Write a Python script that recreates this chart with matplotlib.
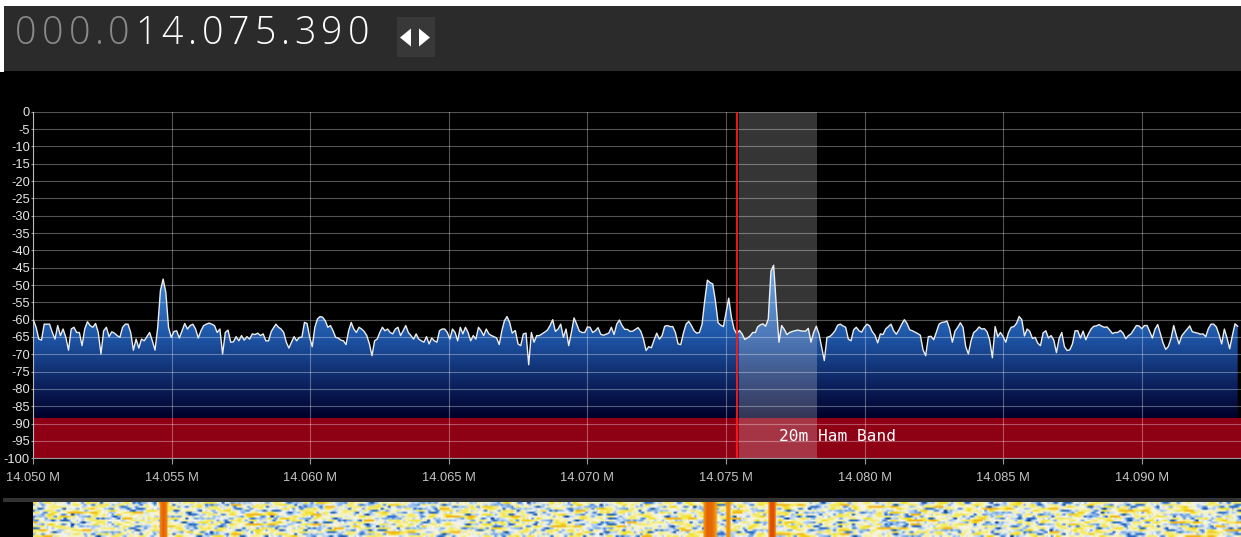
import numpy as np
import matplotlib
matplotlib.use("Agg")
import matplotlib.pyplot as plt
from matplotlib.colors import LinearSegmentedColormap
from matplotlib.patches import Rectangle, Polygon

# ---------------- data ----------------
freq_prefix = "000.0"
freq_value = "14.075.390"
x_ticks_mhz = [14.050, 14.055, 14.060, 14.065, 14.070, 14.075, 14.080, 14.085, 14.090]
x_tick_labels = ["14.050 M", "14.055 M", "14.060 M", "14.065 M", "14.070 M",
                 "14.075 M", "14.080 M", "14.085 M", "14.090 M"]
y_ticks_db = [0, -5, -10, -15, -20, -25, -30, -35, -40, -45, -50,
              -55, -60, -65, -70, -75, -80, -85, -90, -95, -100]
x_range_mhz = (14.050, 14.09358)

tuned_mhz = 14.07539
passband_mhz = (14.07546, 14.07827)
band_name = "20m Ham Band"
band_db = (-100, -88.5)

seg1_mhz = (14.05001, 14.05869)
seg1_db = [-60.1, -62.2, -65.6, -65.9, -61.3, -61.3, -61.3, -63.7, -65.6, -61.7, -64.6, -62.7, -65.1, -68.8,
           -62.7, -62.2, -63.7, -63.7, -67.5, -62.7, -60.6, -61.7, -62.2, -61.1, -63.7, -69.9, -63.2, -62.2,
           -64.9, -63.5, -63.9, -64.6, -65.1, -62.2, -61.3, -61.3, -63.7, -68.8, -65.6, -68.2, -65.6, -66.1,
           -64.9, -63.7, -66.1, -68.8, -62.2, -51.6, -48.3, -52.1, -62.2, -65.1, -63.4, -63.2, -65.3, -63.2,
           -61.1, -62.7, -61.7, -61.3, -62.7, -65.3, -63.2, -61.7, -61.3, -61.0, -61.3, -61.7, -63.7, -62.7,
           -69.9, -63.7, -63.0, -66.5, -66.4, -64.9, -66.1, -64.6, -65.9, -64.9, -65.6, -64.1, -64.3, -63.9,
           -64.6, -64.1, -66.1, -66.1, -63.4, -62.2]
seg2_mhz = (14.05876, 14.06738)
seg2_db = [-61.3, -62.2, -62.7, -63.7, -66.5, -68.2, -66.5, -64.9, -66.1, -65.1, -65.1, -60.8, -61.1, -65.1,
           -67.8, -62.2, -59.8, -59.1, -59.3, -60.3, -62.2, -61.7, -63.2, -65.1, -65.3, -65.9, -66.1, -67.2,
           -63.2, -60.8, -62.7, -63.7, -62.2, -62.7, -63.4, -64.6, -67.0, -70.4, -66.1, -65.6, -63.7, -62.2,
           -63.2, -62.7, -63.7, -64.1, -62.7, -62.2, -64.6, -63.2, -61.7, -63.7, -64.6, -65.6, -64.1, -65.6,
           -66.1, -66.5, -64.9, -67.0, -65.3, -66.1, -66.5, -63.2, -62.7, -62.7, -63.7, -65.6, -62.7, -63.7,
           -66.1, -62.2, -64.1, -62.2, -63.7, -66.1, -64.6, -65.6, -62.2, -63.2, -64.6, -62.7, -64.1, -64.6,
           -64.9, -65.3, -67.2, -63.2, -60.3, -59.1, -60.8, -63.9, -63.2]
seg3_mhz = (14.06740, 14.07606)
seg3_db = [-63.2, -67.0, -67.5, -64.1, -63.9, -73.0, -63.7, -66.5, -64.6, -64.6, -64.1, -63.6, -63.0, -61.7,
           -60.0, -63.4, -62.7, -61.3, -65.1, -62.7, -67.5, -63.7, -59.5, -61.3, -63.3, -63.7, -63.7, -62.1,
           -62.2, -63.7, -63.2, -62.3, -64.2, -64.5, -64.2, -63.9, -62.2, -64.3, -61.3, -60.1, -61.7, -62.8,
           -62.8, -63.4, -63.3, -62.8, -62.3, -63.3, -65.5, -68.9, -67.8, -68.1, -65.9, -63.9, -65.6, -64.6,
           -61.9, -61.7, -62.0, -62.0, -63.7, -67.0, -67.2, -63.9, -61.3, -60.5, -61.7, -63.2, -63.9, -63.7,
           -61.3, -54.5, -48.6, -49.3, -49.7, -54.5, -60.9, -61.6, -62.0, -57.9, -53.8, -59.3, -62.7, -64.1,
           -63.1, -64.1, -65.7, -65.3, -64.7, -63.7, -63.7]
seg4_mhz = (14.07614, 14.08461)
seg4_db = [-62.1, -61.5, -61.2, -61.9, -59.8, -46.0, -44.3, -56.0, -66.5, -61.7, -62.8, -64.3, -63.7, -63.4,
           -63.2, -63.0, -63.2, -63.3, -63.3, -62.5, -66.5, -63.7, -61.9, -64.1, -68.0, -71.8, -65.1, -64.9,
           -64.2, -63.2, -61.6, -61.3, -61.8, -62.2, -65.6, -66.1, -62.9, -62.2, -63.2, -63.6, -62.2, -61.3,
           -61.8, -63.5, -64.5, -66.7, -64.1, -64.3, -62.7, -62.0, -61.3, -63.2, -64.2, -62.9, -61.3, -60.0,
           -61.1, -62.9, -63.2, -63.6, -64.0, -64.5, -68.7, -70.4, -64.9, -64.8, -65.8, -63.6, -61.3, -60.8,
           -60.7, -60.4, -62.7, -66.5, -63.3, -62.2, -60.9, -62.2, -67.8, -69.9, -66.1, -63.7, -63.1, -62.1,
           -62.7, -62.6, -63.5, -65.9, -71.0]
seg5_mhz = (14.08471, 14.09346)
seg5_db = [-62.0, -64.9, -63.7, -64.9, -66.5, -63.7, -62.2, -62.0, -61.1, -59.1, -60.0, -64.7, -62.7, -63.4,
           -65.4, -65.1, -66.8, -67.5, -63.8, -63.2, -65.3, -64.6, -65.9, -69.5, -65.4, -63.7, -67.8, -68.9,
           -68.7, -67.0, -63.2, -63.2, -65.3, -63.3, -65.8, -64.1, -62.7, -61.9, -61.8, -61.4, -61.9, -62.2,
           -62.1, -63.0, -64.0, -63.7, -63.7, -63.1, -63.9, -65.5, -64.6, -64.1, -62.9, -61.7, -61.8, -62.6,
           -61.7, -61.7, -63.4, -65.3, -62.7, -61.4, -64.1, -66.7, -68.6, -67.7, -65.4, -61.7, -64.6, -67.0,
           -64.7, -63.7, -62.8, -61.8, -63.5, -63.7, -63.9, -64.2, -64.1, -64.9, -62.6, -61.3, -61.3, -62.1,
           -64.3, -67.0, -62.7, -65.3, -68.4, -64.6, -61.2, -61.9]

segments = [(seg1_mhz, seg1_db), (seg2_mhz, seg2_db), (seg3_mhz, seg3_db),
            (seg4_mhz, seg4_db), (seg5_mhz, seg5_db)]
freq = np.concatenate([np.linspace(s[0], s[1], len(d)) for s, d in segments])
level = np.concatenate([np.asarray(d, float) for s, d in segments])

# ---------------- figure ----------------
W, H = 1241, 537
fig = plt.figure(figsize=(W / 100, H / 100), dpi=100, facecolor="black")


def fx(x):
    return x / W


def fy(y):
    return 1 - y / H


def frect(x0, y0, x1, y1, color):
    fig.patches.append(Rectangle((fx(x0), fy(y1)), fx(x1) - fx(x0), fy(y0) - fy(y1),
                                 transform=fig.transFigure, color=color, lw=0, zorder=0))


# header bar and white margins
frect(0, 0, W, 5.5, "white")
frect(0, 0, 4, 72, "white")
frect(4, 5.5, W, 71, "#2b2b2b")
# separator above waterfall
frect(3, 497.7, W, 501.7, "#333333")

# frequency display, character by character
digit_adv, dot_adv = 26.6, 13.3
xpos = 12.7
for i, ch in enumerate(freq_prefix + freq_value):
    adv = dot_adv if ch == "." else digit_adv
    col = "#8a8a8a" if i < len(freq_prefix) else "white"
    fig.text(fx(xpos + adv / 2), fy(34), ch, color=col, fontsize=27,
             family="Open Sans", weight="light", ha="center", va="center")
    xpos += adv

# arrow button
frect(396.7, 16.7, 435, 56.7, "#383838")
for pts in ([(400, 37.5), (411, 28.5), (411, 46.5)], [(419, 28.5), (419, 46.5), (430, 37.5)]):
    fig.patches.append(Polygon([(fx(a), fy(b)) for a, b in pts], closed=True,
                               transform=fig.transFigure, color="white", lw=0))

# ---------------- spectrum axes ----------------
ax = fig.add_axes([fx(33.1), fy(458.3), fx(W) - fx(33.1), fy(111.7) - fy(458.3)])
ax.set_facecolor("black")
ax.set_xlim(*x_range_mhz)
ax.set_ylim(-100, 0)

grad = LinearSegmentedColormap.from_list("fill", [
    (0.0, "#000018"), (0.1917, "#000028"), (0.333, "#0a1d58"), (0.4667, "#153c82"),
    (0.583, "#1e55a6"), (0.667, "#2663b2"), (0.833, "#377dcc"), (1.0, "#4a90e0")])
im = ax.imshow(np.linspace(-100, -40, 256).reshape(-1, 1), extent=[*x_range_mhz, -100, -40],
               origin="lower", aspect="auto", cmap=grad, vmin=-100, vmax=-40, zorder=1)
poly = ax.fill_between(freq, level, -100, facecolor="none", lw=0)
im.set_clip_path(poly.get_paths()[0], transform=ax.transData)

ax.axhspan(*band_db, color="#8e0014", lw=0, zorder=2)
for y in y_ticks_db:
    ax.axhline(y, color="white", alpha=0.33, lw=0.8, zorder=3)
for x in x_ticks_mhz:
    ax.axvline(x, color="white", alpha=0.33, lw=0.8, zorder=3)

ax.plot(freq, level, color="#ececec", lw=1.0, zorder=4, solid_joinstyle="round")
ax.axvspan(*passband_mhz, color="white", alpha=0.21, lw=0, zorder=5)
ax.axvline(tuned_mhz, color="#ff1a1a", lw=1.3, zorder=6)
ax.text(14.07691, -93.6, band_name, color="white", fontsize=11.6, family="DejaVu Sans Mono",
        ha="left", va="center", zorder=7)

for s in ("top", "right"):
    ax.spines[s].set_visible(False)
for s in ("left", "bottom"):
    ax.spines[s].set_color("#9a9a9a")
    ax.spines[s].set_linewidth(0.8)
ax.set_xticks(x_ticks_mhz)
ax.set_xticklabels(x_tick_labels, family="Liberation Sans", fontsize=9.3, color="#c4c4c4")
ax.set_yticks(y_ticks_db)
ax.set_yticklabels([str(v) for v in y_ticks_db], family="Liberation Sans", fontsize=9.3, color="#e6e6e6")
ax.tick_params(axis="x", length=4.5, width=0.8, color="#9a9a9a", pad=5.5)
ax.tick_params(axis="y", length=1.5, width=0.8, color="#9a9a9a", pad=0.8)

# ---------------- waterfall ----------------
wf_cmap = LinearSegmentedColormap.from_list("wf", [
    (0.0, "#08306b"), (0.16, "#2c6fcb"), (0.25, "#9cc4ee"), (0.31, "#f6f6f2"),
    (0.37, "#f5ef90"), (0.44, "#f2e020"), (0.6, "#f59a10"), (1.0, "#e05000")])
cols = np.linspace(*x_range_mhz, 800)
row0 = np.interp(cols, freq, level)
rows = []
for k in range(18):
    shifted = np.minimum(np.roll(row0, 41 * k + 7 * k * k), -58)
    rows.append(np.where(row0 > -58, row0, shifted))
wf = np.array(rows)
axw = fig.add_axes([fx(33.1), 0, fx(W) - fx(33.1), fy(502) - 0])
axw.imshow(wf, aspect="auto", cmap=wf_cmap, vmin=-72, vmax=-46, interpolation="bilinear",
           extent=[*x_range_mhz, 0, 1])
axw.set_axis_off()

fig.savefig("out.png", dpi=100, facecolor="black")
